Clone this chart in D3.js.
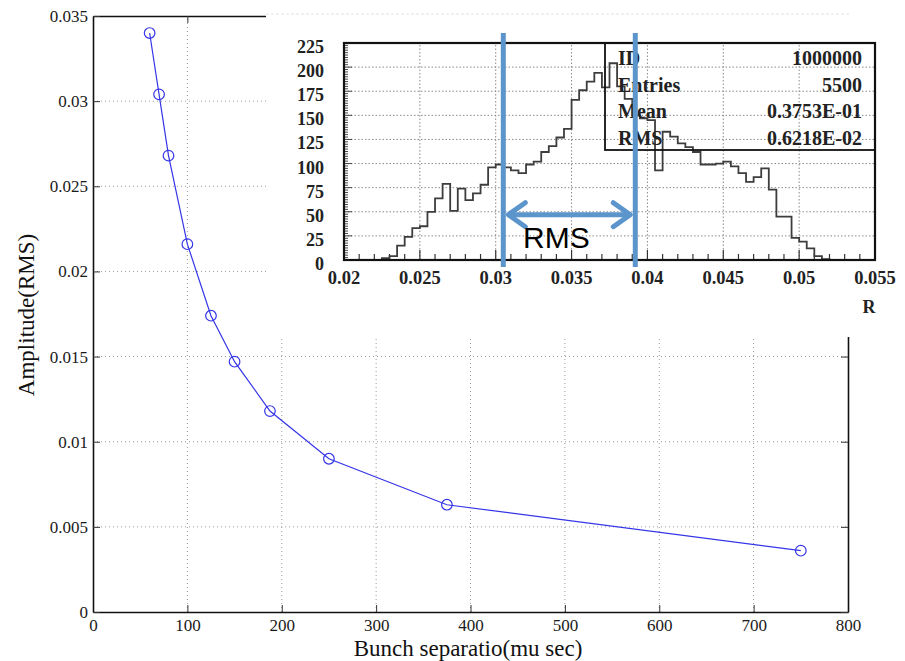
<!DOCTYPE html>
<html><head><meta charset="utf-8">
<script src="https://cdn.jsdelivr.net/npm/d3@7/dist/d3.min.js"></script>
<style>
html,body{margin:0;padding:0;background:#fff;}
svg{display:block;}
</style></head><body>
<svg id="c" width="905" height="661"></svg>
<script>
// ---------- main chart data ----------
const bunchSeparation = [60, 70, 80, 100, 125, 150, 187.5, 250, 375, 750];
const amplitudeRMS = [0.0340, 0.0304, 0.0268, 0.0216, 0.0174, 0.0147, 0.0118, 0.0090, 0.0063, 0.0036];
const xTicks = [0, 100, 200, 300, 400, 500, 600, 700, 800];
const yTicks = [0, 0.005, 0.01, 0.015, 0.02, 0.025, 0.03, 0.035];
const yTickLabels = ["0", "0.005", "0.01", "0.015", "0.02", "0.025", "0.03", "0.035"];

// ---------- inset histogram data ----------
const histStart = 0.02;
const histBinWidth = 0.0005;
const histCounts = [
  0, 0, 0, 0, 0, 2, 4, 15, 24, 33,
  35, 50, 64, 79, 51, 74, 62, 69, 78, 96,
  99, 96, 93, 90, 99, 102, 112, 118, 127, 136,
  166, 176, 185, 194, 179, 204, 180, 167, 150, 147,
  145, 93, 133, 128, 121, 117, 112, 99, 99, 100,
  102, 97, 90, 81, 86, 95, 73, 45, 45, 23,
  19, 12, 4, 1, 0, 0, 0, 0, 0, 0
];
const histXTicks = [0.02, 0.025, 0.03, 0.035, 0.04, 0.045, 0.05, 0.055];
const histXTickLabels = ["0.02", "0.025", "0.03", "0.035", "0.04", "0.045", "0.05", "0.055"];
const histYTicks = [0, 25, 50, 75, 100, 125, 150, 175, 200, 225];
const statLabels = ["ID", "Entries", "Mean", "RMS"];
const statValues = ["1000000", "5500", "0.3753E-01", "0.6218E-02"];
const rmsMarkers = [0.0305, 0.0392];
const rmsArrowLevel = 47;

const svg = d3.select("#c");
const serif = "'Liberation Serif','Times New Roman',serif";

// ---------- main chart ----------
const x = d3.scaleLinear().domain([0, 800]).range([93, 848]);
const y = d3.scaleLinear().domain([0, 0.035]).range([612, 16]);

const main = svg.append("g");
// grid
main.append("g").selectAll("line").data(xTicks.slice(1, -1)).join("line")
  .attr("x1", d => x(d)).attr("x2", d => x(d)).attr("y1", y(0)).attr("y2", y(0.035))
  .attr("stroke", "#9a9a9a").attr("stroke-width", 1).attr("stroke-dasharray", "1,3");
main.append("g").selectAll("line").data(yTicks.slice(1, -1)).join("line")
  .attr("y1", d => y(d)).attr("y2", d => y(d)).attr("x1", x(0)).attr("x2", x(800))
  .attr("stroke", "#9a9a9a").attr("stroke-width", 1).attr("stroke-dasharray", "1,3");

// axes
const xAxis = main.append("g").attr("transform", `translate(0,${y(0)})`)
  .call(d3.axisBottom(x).tickValues(xTicks).tickFormat(d3.format("d")).tickSizeInner(-7).tickSizeOuter(0).tickPadding(7));
const xAxisTop = main.append("g").attr("transform", `translate(0,${y(0.035)})`)
  .call(d3.axisTop(x).tickValues(xTicks).tickFormat("").tickSizeInner(-7).tickSizeOuter(0));
const yAxis = main.append("g").attr("transform", `translate(${x(0)},0)`)
  .call(d3.axisLeft(y).tickValues(yTicks).tickFormat((d, i) => yTickLabels[i]).tickSizeInner(-7).tickSizeOuter(0).tickPadding(5));
const yAxisRight = main.append("g").attr("transform", `translate(${x(800)},0)`)
  .call(d3.axisRight(y).tickValues(yTicks).tickFormat("").tickSizeInner(-7).tickSizeOuter(0));
[xAxis, xAxisTop, yAxis, yAxisRight].forEach(g => {
  g.select(".domain").attr("stroke", "#111").attr("stroke-width", 1.6);
  g.selectAll(".tick line").attr("stroke", "#333").attr("stroke-width", 1);
  g.selectAll("text").attr("font-family", serif).attr("font-size", 17).attr("fill", "#1a1a1a");
});

// line + markers
const line = d3.line().x((d, i) => x(bunchSeparation[i])).y(d => y(d));
main.append("path").datum(amplitudeRMS).attr("d", line)
  .attr("fill", "none").attr("stroke", "#3535e8").attr("stroke-width", 1.2);
main.append("g").selectAll("circle").data(amplitudeRMS).join("circle")
  .attr("cx", (d, i) => x(bunchSeparation[i])).attr("cy", d => y(d)).attr("r", 5.3)
  .attr("fill", "none").attr("stroke", "#3535e8").attr("stroke-width", 1.2);

// titles
main.append("text").attr("x", 468).attr("y", 656).attr("text-anchor", "middle")
  .attr("font-family", serif).attr("font-size", 23).attr("fill", "#111")
  .text("Bunch separatio(mu sec)");
main.append("text").attr("transform", "translate(34,315) rotate(-90)").attr("text-anchor", "middle")
  .attr("font-family", serif).attr("font-size", 23).attr("fill", "#111")
  .text("Amplitude(RMS)");

// ---------- inset ----------
const inset = svg.append("g");
inset.append("rect").attr("x", 266).attr("y", 0).attr("width", 639).attr("height", 337).attr("fill", "#fff");
inset.append("line").attr("x1", 266).attr("x2", 850).attr("y1", 14).attr("y2", 14)
  .attr("stroke", "#e2e2e2").attr("stroke-width", 1).attr("stroke-dasharray", "3,2");

const hx = d3.scaleLinear().domain([0.02, 0.055]).range([344, 875]);
const hy = d3.scaleLinear().domain([0, 225]).range([260, 43]);

// grid
inset.append("g").selectAll("line").data(histXTicks.slice(1, -1)).join("line")
  .attr("x1", d => hx(d)).attr("x2", d => hx(d)).attr("y1", hy(0)).attr("y2", hy(225))
  .attr("stroke", "#8a8a8a").attr("stroke-width", 1).attr("stroke-dasharray", "1.5,2");
inset.append("g").selectAll("line").data(histYTicks.slice(1, -1)).join("line")
  .attr("y1", d => hy(d)).attr("y2", d => hy(d)).attr("x1", hx(0.02)).attr("x2", hx(0.055))
  .attr("stroke", "#8a8a8a").attr("stroke-width", 1).attr("stroke-dasharray", "1.5,2");

// minor/major ticks
const yMinor = d3.range(0, 225.01, 2.5);
inset.append("g").selectAll("line").data(yMinor).join("line")
  .attr("x1", hx(0.02)).attr("x2", d => hx(0.02) + (d % 25 === 0 ? 8 : 4))
  .attr("y1", d => hy(d)).attr("y2", d => hy(d)).attr("stroke", "#333").attr("stroke-width", 0.9);
const xMinor = d3.range(0, 36).map(i => 0.02 + i * 0.001);
inset.append("g").selectAll("line").data(xMinor).join("line")
  .attr("x1", d => hx(d)).attr("x2", d => hx(d))
  .attr("y1", hy(0)).attr("y2", (d, i) => hy(0) - (i % 5 === 0 ? 10 : 6))
  .attr("stroke", "#333").attr("stroke-width", 1.2);

// histogram step outline
const histPts = histCounts.map((c, i) => [histStart + i * histBinWidth, c]);
histPts.push([histStart + histCounts.length * histBinWidth, histCounts[histCounts.length - 1]]);
const step = d3.line().x(d => hx(d[0])).y(d => hy(d[1])).curve(d3.curveStepAfter);
inset.append("path").datum(histPts).attr("d", step)
  .attr("fill", "none").attr("stroke", "#3d3d3d").attr("stroke-width", 1.8);

// frame
inset.append("rect").attr("x", hx(0.02)).attr("y", hy(225))
  .attr("width", hx(0.055) - hx(0.02)).attr("height", hy(0) - hy(225))
  .attr("fill", "none").attr("stroke", "#111").attr("stroke-width", 2.2);

// tick labels
inset.append("g").selectAll("text").data(histYTicks).join("text")
  .attr("x", 324).attr("y", d => hy(d) + 10).attr("text-anchor", "end")
  .attr("font-family", serif).attr("font-weight", "bold").attr("font-size", 18).attr("fill", "#222")
  .text(d => d);
inset.append("g").selectAll("text").data(histXTicks).join("text")
  .attr("x", d => hx(d)).attr("y", 284).attr("text-anchor", "middle")
  .attr("font-family", serif).attr("font-weight", "bold").attr("font-size", 18.5).attr("fill", "#222")
  .text((d, i) => histXTickLabels[i]);
inset.append("text").attr("x", 869).attr("y", 313).attr("text-anchor", "middle")
  .attr("font-family", serif).attr("font-weight", "bold").attr("font-size", 18).attr("fill", "#222")
  .text("R");

// stats box
const boxL = 605, boxT = hy(225), boxB = 150, boxR = hx(0.055);
inset.append("rect").attr("x", boxL).attr("y", boxT).attr("width", boxR - boxL).attr("height", boxB - boxT)
  .attr("fill", "none").attr("stroke", "#111").attr("stroke-width", 1.8);
const rowY = i => 65 + i * 26.7;
inset.append("g").selectAll("text").data(statLabels).join("text")
  .attr("x", 618).attr("y", (d, i) => rowY(i))
  .attr("font-family", serif).attr("font-weight", "bold").attr("font-size", 20).attr("fill", "#222")
  .text(d => d);
inset.append("g").selectAll("text").data(statValues).join("text")
  .attr("x", 862).attr("y", (d, i) => rowY(i)).attr("text-anchor", "end")
  .attr("font-family", serif).attr("font-weight", "bold").attr("font-size", 20).attr("fill", "#222")
  .text(d => d);

// RMS annotation
const blue = "#5b95cb";
inset.append("g").selectAll("line").data(rmsMarkers).join("line")
  .attr("x1", d => hx(d)).attr("x2", d => hx(d)).attr("y1", 33).attr("y2", 267)
  .attr("stroke", blue).attr("stroke-width", 5);
const ay = hy(rmsArrowLevel);
const ax0 = hx(rmsMarkers[0]) + 4, ax1 = hx(rmsMarkers[1]) - 4;
inset.append("line").attr("x1", ax0 + 2).attr("x2", ax1 - 2).attr("y1", ay).attr("y2", ay)
  .attr("stroke", blue).attr("stroke-width", 5);
inset.append("path")
  .attr("d", `M${ax0 + 18},${ay - 12} L${ax0 + 1},${ay} L${ax0 + 18},${ay + 12}`)
  .attr("fill", "none").attr("stroke", blue).attr("stroke-width", 5).attr("stroke-linecap", "round").attr("stroke-linejoin", "round");
inset.append("path")
  .attr("d", `M${ax1 - 18},${ay - 12} L${ax1 - 1},${ay} L${ax1 - 18},${ay + 12}`)
  .attr("fill", "none").attr("stroke", blue).attr("stroke-width", 5).attr("stroke-linecap", "round").attr("stroke-linejoin", "round");
inset.append("text").attr("x", 523).attr("y", 248)
  .attr("font-family", "'Liberation Sans',Arial,sans-serif").attr("font-size", 30).attr("fill", "#000")
  .text("RMS");
</script>
</body></html>
